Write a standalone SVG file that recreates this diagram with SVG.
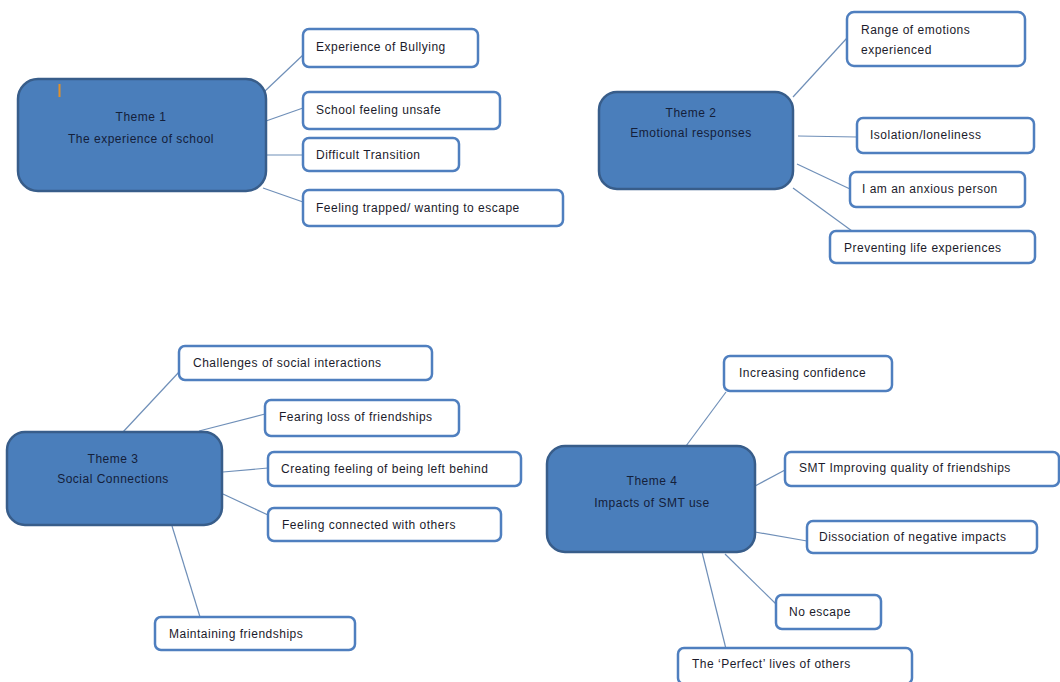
<svg xmlns="http://www.w3.org/2000/svg" width="1060" height="682" viewBox="0 0 1060 682">
<style>
.theme{fill:#4A7EBB;stroke:#385D8A;stroke-width:2.5}
.leaf{fill:#fff;stroke:#4F7FBF;stroke-width:2.5}
.t{font-family:"Liberation Sans",Arial,sans-serif;font-size:12px;letter-spacing:0.5px;fill:#1b1b2b}
.tc{font-family:"Liberation Sans",Arial,sans-serif;font-size:12px;letter-spacing:0.5px;fill:#14203a;text-anchor:middle}
#connectors line{stroke:#6F8FB8;stroke-width:1.2}
</style>
<rect width="1060" height="682" fill="#fff"/>
<g id="connectors">
<line x1="265" y1="91" x2="303" y2="55"/>
<line x1="266" y1="121" x2="303" y2="108"/>
<line x1="266" y1="155" x2="303" y2="155"/>
<line x1="263" y1="188" x2="303" y2="202"/>
<line x1="793" y1="97" x2="847" y2="38"/>
<line x1="798" y1="136" x2="857" y2="137"/>
<line x1="797" y1="164" x2="850" y2="189"/>
<line x1="793" y1="188" x2="852" y2="231"/>
<line x1="123" y1="432" x2="179" y2="372"/>
<line x1="199" y1="431" x2="265" y2="414"/>
<line x1="223" y1="472" x2="268" y2="468"/>
<line x1="223" y1="494" x2="268" y2="515"/>
<line x1="172" y1="526" x2="200" y2="617"/>
<line x1="686" y1="446" x2="726" y2="392"/>
<line x1="755" y1="486" x2="785" y2="470"/>
<line x1="755" y1="532" x2="807" y2="541"/>
<line x1="725" y1="554" x2="776" y2="604"/>
<line x1="702" y1="552" x2="726" y2="649"/>
</g>
<g id="theme1">
<rect class="theme" x="18" y="79" width="248" height="112" rx="20"/>
<line x1="59.5" y1="84" x2="59.5" y2="97" stroke="#E0902A" stroke-width="2"/>
<text class="tc" x="141" y="121">Theme 1</text>
<text class="tc" x="141" y="143">The experience of school</text>
</g>
<g id="n-bullying"><rect class="leaf" x="303" y="29" width="175" height="38" rx="6"/><text class="t" x="316" y="51">Experience of Bullying</text></g>
<g id="n-unsafe"><rect class="leaf" x="303" y="92" width="197" height="37" rx="6"/><text class="t" x="316" y="114">School feeling unsafe</text></g>
<g id="n-transition"><rect class="leaf" x="303" y="138" width="156" height="33" rx="6"/><text class="t" x="316" y="159">Difficult Transition</text></g>
<g id="n-trapped"><rect class="leaf" x="303" y="190" width="260" height="36" rx="6"/><text class="t" x="316" y="212">Feeling trapped/ wanting to escape</text></g>

<g id="theme2">
<rect class="theme" x="599" y="92" width="194" height="97" rx="18"/>
<text class="tc" x="691" y="117">Theme 2</text>
<text class="tc" x="691" y="137">Emotional responses</text>
</g>
<g id="n-range"><rect class="leaf" x="847" y="12" width="178" height="54" rx="7"/><text class="t" x="861" y="34">Range of emotions</text><text class="t" x="861" y="54">experienced</text></g>
<g id="n-isolation"><rect class="leaf" x="857" y="118" width="177" height="35" rx="6"/><text class="t" x="870" y="139">Isolation/loneliness</text></g>
<g id="n-anxious"><rect class="leaf" x="850" y="172" width="175" height="35" rx="6"/><text class="t" x="862" y="193">I am an anxious person</text></g>
<g id="n-preventing"><rect class="leaf" x="830" y="231" width="205" height="32" rx="6"/><text class="t" x="844" y="252">Preventing life experiences</text></g>

<g id="theme3">
<rect class="theme" x="7" y="432" width="215" height="93" rx="18"/>
<text class="tc" x="113" y="463">Theme 3</text>
<text class="tc" x="113" y="483">Social Connections</text>
</g>
<g id="n-challenges"><rect class="leaf" x="179" y="346" width="253" height="34" rx="6"/><text class="t" x="193" y="367">Challenges of social interactions</text></g>
<g id="n-fearing"><rect class="leaf" x="265" y="400" width="194" height="36" rx="6"/><text class="t" x="279" y="421">Fearing loss of friendships</text></g>
<g id="n-leftbehind"><rect class="leaf" x="268" y="452" width="253" height="34" rx="6"/><text class="t" x="281" y="473">Creating feeling of being left behind</text></g>
<g id="n-connected"><rect class="leaf" x="268" y="508" width="233" height="33" rx="6"/><text class="t" x="282" y="529">Feeling connected with others</text></g>
<g id="n-maintaining"><rect class="leaf" x="155" y="617" width="200" height="33" rx="6"/><text class="t" x="169" y="638">Maintaining friendships</text></g>

<g id="theme4">
<rect class="theme" x="547" y="446" width="208" height="106" rx="18"/>
<text class="tc" x="652" y="485">Theme 4</text>
<text class="tc" x="652" y="507">Impacts of SMT use</text>
</g>
<g id="n-confidence"><rect class="leaf" x="724" y="356" width="168" height="35" rx="6"/><text class="t" x="739" y="377">Increasing confidence</text></g>
<g id="n-smt"><rect class="leaf" x="785" y="452" width="274" height="34" rx="6"/><text class="t" x="799" y="472">SMT Improving quality of friendships</text></g>
<g id="n-dissociation"><rect class="leaf" x="807" y="521" width="230" height="32" rx="6"/><text class="t" x="819" y="541">Dissociation of negative impacts</text></g>
<g id="n-noescape"><rect class="leaf" x="776" y="595" width="105" height="34" rx="6"/><text class="t" x="789" y="616">No escape</text></g>
<g id="n-perfect"><rect class="leaf" x="678" y="648" width="234" height="36" rx="6"/><text class="t" x="692" y="668">The ‘Perfect’ lives of others</text></g>
</svg>
